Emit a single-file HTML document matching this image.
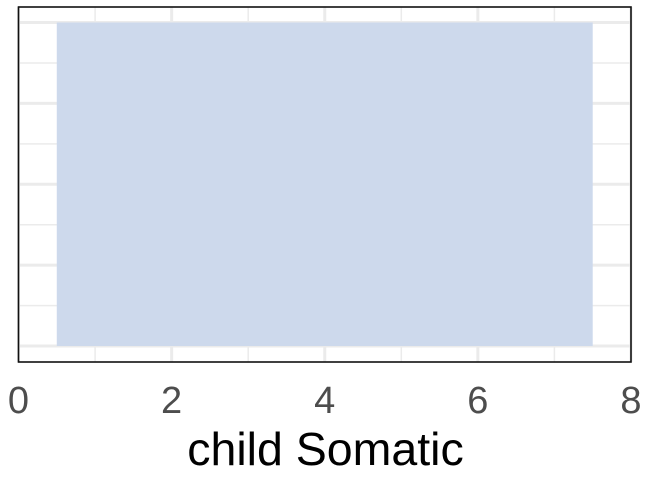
<!DOCTYPE html>
<html><head><meta charset="utf-8"><style>
body{margin:0;background:#fff;}
svg{display:block;font-family:"Liberation Sans",sans-serif;}
</style></head><body>
<svg id="c" width="672" height="480"></svg>
<script>
const categories=["child Somatic"];
const xStart=[0.5];
const xEnd=[7.5];
const values=[4];
const xTicks=[0,2,4,6,8];
const xMinor=[1,3,5,7];
const yMajor=[0,1,2,3,4];
const yMinor=[0.5,1.5,2.5,3.5];
const L=18.5,R=631,T=7,B=362;
const xs=v=>L+(R-L)*v/8;
const ys=v=>346-(346-22.5)*v/4;
const NS="http://www.w3.org/2000/svg";
const svg=document.getElementById('c');
function el(t,a){const e=document.createElementNS(NS,t);for(const k in a)e.setAttribute(k,a[k]);svg.appendChild(e);return e;}
xMinor.forEach(v=>{const e=el('line',{x1:xs(v),x2:xs(v),y1:T,y2:B,stroke:'#ebebeb','stroke-width':1.5});

});
yMinor.forEach(v=>{const e=el('line',{x1:L,x2:R,y1:ys(v),y2:ys(v),stroke:'#ebebeb','stroke-width':1.5});

});
xTicks.forEach(v=>{const e=el('line',{x1:xs(v),x2:xs(v),y1:T,y2:B,stroke:'#ebebeb','stroke-width':3});

});
yMajor.forEach(v=>{const e=el('line',{x1:L,x2:R,y1:ys(v),y2:ys(v),stroke:'#ebebeb','stroke-width':3});

});
values.forEach((v,i)=>{const e=el('rect',{x:xs(xStart[i]),y:ys(v),width:xs(xEnd[i])-xs(xStart[i]),height:ys(0)-ys(v),fill:'#cdd9ec'});

});
const f=el('rect',{x:L,y:T,width:R-L,height:B-T,fill:'none',stroke:'#111','stroke-width':1.6});


xTicks.forEach(v=>{
const e=el('text',{x:xs(v),y:413,'text-anchor':'middle','font-size':38,fill:'#4d4d4d'});e.textContent=v;

});
const ti=el('text',{x:325.5,y:465,'text-anchor':'middle','font-size':46.5,fill:'#000'});ti.textContent=categories[0];


</script>
</body></html>
